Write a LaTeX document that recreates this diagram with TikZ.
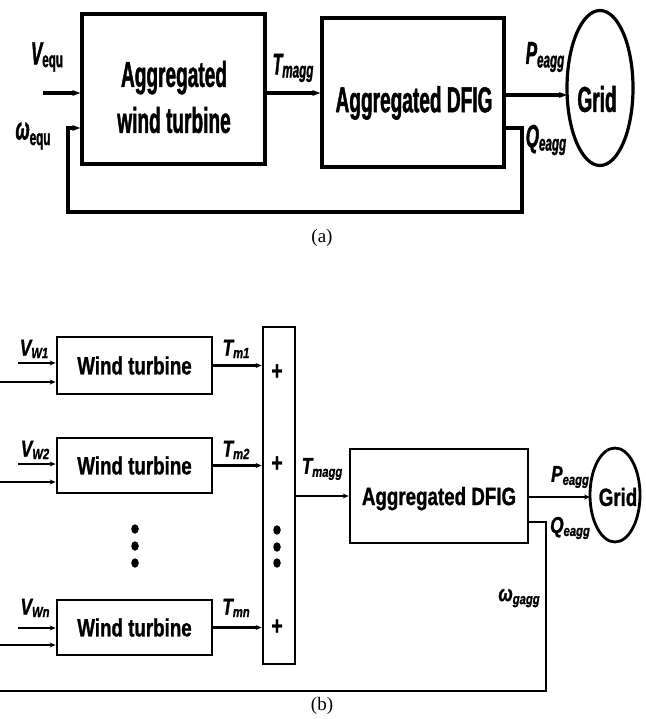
\documentclass[tikz,border=0pt]{standalone}
\usepackage{fontspec}
\setmainfont{Liberation Serif}
\newfontfamily\conda[FakeStretch=0.53,FakeBold=1.2]{Liberation Sans}
\newfontfamily\condb[FakeStretch=0.75,FakeBold=1]{Liberation Sans}
\usetikzlibrary{arrows.meta,shapes.geometric}
% main symbol + lowered subscript
\newcommand{\symb}[6]{{#1\bfseries\itshape\fontsize{#2}{#2}\selectfont #4}\raisebox{#6}{#1\bfseries\fontsize{#3}{#3}\selectfont #5}}
\begin{document}
\begin{tikzpicture}[x=1pt,y=-1pt,
  linea/.style={line width=3.4pt},
  lineb/.style={line width=2.5pt},
  arra/.style={-{Stealth[length=8pt,width=6pt]}},
  arrb/.style={-{Stealth[length=6pt,width=5pt]}},
  boxa/.style={draw, line width=3.6pt, inner sep=0pt},
  boxb/.style={draw, line width=2.8pt, inner sep=0pt, font=\condb\bfseries\fontsize{25}{28}\selectfont},
  texta/.style={inner sep=0pt, align=center, font=\conda\bfseries\fontsize{36}{46}\selectfont},
  lab/.style={inner sep=0pt},
  captxt/.style={inner sep=0pt, font=\fontsize{19}{22}\selectfont},
  plus/.style={inner sep=0pt, font=\condb\bfseries\fontsize{26}{26}\selectfont},
  bigdot/.style={ellipse, fill, minimum width=7.5pt, minimum height=9.5pt, inner sep=0pt}
]
\useasboundingbox (0,0) rectangle (645,719);

% ---------------- (a) ----------------
\node[boxa, minimum width=183, minimum height=150] (wta) at (173.5,89) {};
\node[texta] (wtat) at (174,97) {Aggregated\\wind turbine};
\node[boxa, minimum width=182, minimum height=149] (dfiga) at (413,92.5) {};
\node[texta] (dfigat) at (414,103) {Aggregated DFIG};
\node[ellipse, draw, line width=3.2pt, minimum width=66, minimum height=155, inner sep=0pt] (grida) at (600,88) {};
\node[texta] (gridat) at (597,99) {Grid};

\coordinate (va) at (43,93);
\draw[linea,arra] (va) -- (va -| wta.west);
\draw[linea,arra] (wta.east |- 0,93) -- (dfiga.west |- 0,93);
\coordinate (pa) at (0,95);
\draw[linea,arra] (dfiga.east |- pa) -- (567,95);
\coordinate (qa1) at (522,128);
\coordinate (qa2) at (522,212);
\coordinate (wa2) at (68,212);
\coordinate (wa1) at (68,128);
\draw[linea,arra] (dfiga.east |- qa1) -- (qa1) -- (qa2) -- (wa2) -- (wa1) -- (wa1 -| wta.west);

\node[lab] (lva) at (47,57) {\symb{\conda}{32}{22}{V}{equ}{-0.28em}};
\node[lab] (lwa) at (33,136) {\symb{\conda}{32}{22}{ω}{equ}{-0.55em}};
\node[lab] (lta) at (293,68) {\symb{\conda}{30}{22}{T}{\itshape magg}{-0.3em}};
\node[lab] (lpa) at (545,57) {\symb{\conda}{32}{22}{P}{\itshape eagg}{-0.35em}};
\node[lab] (lqa) at (546,140) {\symb{\conda}{32}{22}{Q}{\itshape eagg}{-0.35em}};
\node[captxt] (capa) at (322,238) {(a)};

% ---------------- (b) ----------------
\node[boxb, minimum width=155, minimum height=57] (wt1) at (134.5,365.5) {Wind turbine};
\node[boxb, minimum width=155, minimum height=55] (wt2) at (134.5,465.5) {Wind turbine};
\node[boxb, minimum width=155, minimum height=55] (wtn) at (134.5,627.5) {Wind turbine};
\node[bigdot] (wd1) at (135,529) {};
\node[bigdot] (wd2) at (135,546) {};
\node[bigdot] (wd3) at (135,563) {};

\node[boxb, minimum width=32, minimum height=337] (sum) at (279,495.5) {};
\node[plus] (p1) at (277,372) {+};
\node[plus] (p2) at (277,464) {+};
\node[plus] (pn) at (277,627) {+};
\node[bigdot] (sd1) at (277,530) {};
\node[bigdot] (sd2) at (277,547) {};
\node[bigdot] (sd3) at (277,563) {};

\node[boxb, minimum width=178, minimum height=94, text depth=0pt] (dfigb) at (439,496) {Aggregated DFIG};
\node[ellipse, draw, line width=2.8pt, minimum width=50, minimum height=94, inner sep=0pt] (gridb) at (615,495) {};
\node[inner sep=0pt, font=\condb\bfseries\fontsize{25}{28}\selectfont] (gridbt) at (618,497) {Grid};

% inputs
\coordinate (v1) at (18,363); \coordinate (f1) at (0,382);
\coordinate (v2) at (18,464); \coordinate (f2) at (0,482);
\coordinate (vn) at (18,628); \coordinate (fn) at (0,645);
\draw[lineb,arrb] (v1) -- (v1 -| wt1.west);
\draw[lineb,arrb] (f1) -- (f1 -| wt1.west);
\draw[lineb,arrb] (v2) -- (v2 -| wt2.west);
\draw[lineb,arrb] (f2) -- (f2 -| wt2.west);
\draw[lineb,arrb] (vn) -- (vn -| wtn.west);
\draw[lineb,arrb] (fn) -- (fn -| wtn.west);
% outputs
\draw[lineb,arrb] (wt1.east) -- (wt1.east -| sum.west);
\draw[lineb,arrb] (wt2.east) -- (wt2.east -| sum.west);
\draw[lineb,arrb] (wtn.east) -- (wtn.east -| sum.west);
\draw[lineb,arrb] (sum.east |- dfigb.west) -- (dfigb.west);
\coordinate (pb) at (0,497);
\draw[lineb,arrb] (dfigb.east |- pb) -- (590,497);
\coordinate (qb1) at (546,522);
\coordinate (qb2) at (546,691);
\coordinate (fb) at (0,691);
\draw[lineb] (dfigb.east |- qb1) -- (qb1) -- (qb2) -- (fb);

\node[lab] (lv1) at (34,349) {\symb{\condb}{23}{15}{V}{\itshape W1}{-0.25em}};
\node[lab] (lv2) at (35,450) {\symb{\condb}{23}{15}{V}{\itshape W2}{-0.25em}};
\node[lab] (lvn) at (35,608) {\symb{\condb}{23}{15}{V}{\itshape Wn}{-0.25em}};
\node[lab] (lt1) at (236,349) {\symb{\condb}{23}{15}{T}{\itshape m1}{-0.25em}};
\node[lab] (lt2) at (236,450) {\symb{\condb}{23}{15}{T}{\itshape m2}{-0.25em}};
\node[lab] (ltn) at (236,608) {\symb{\condb}{23}{15}{T}{\itshape mn}{-0.25em}};
\node[lab] (ltb) at (322,469) {\symb{\condb}{23}{15}{T}{\itshape magg}{-0.3em}};
\node[lab] (lpb) at (570,477) {\symb{\condb}{23}{15}{P}{\itshape eagg}{-0.3em}};
\node[lab] (lqb) at (570,528) {\symb{\condb}{23}{15}{Q}{\itshape eagg}{-0.3em}};
\node[lab] (lwb) at (519,598) {\symb{\condb}{23}{15}{ω}{\itshape gagg}{-0.3em}};
\node[captxt] (capb) at (322,706) {(b)};
\end{tikzpicture}
\end{document}
